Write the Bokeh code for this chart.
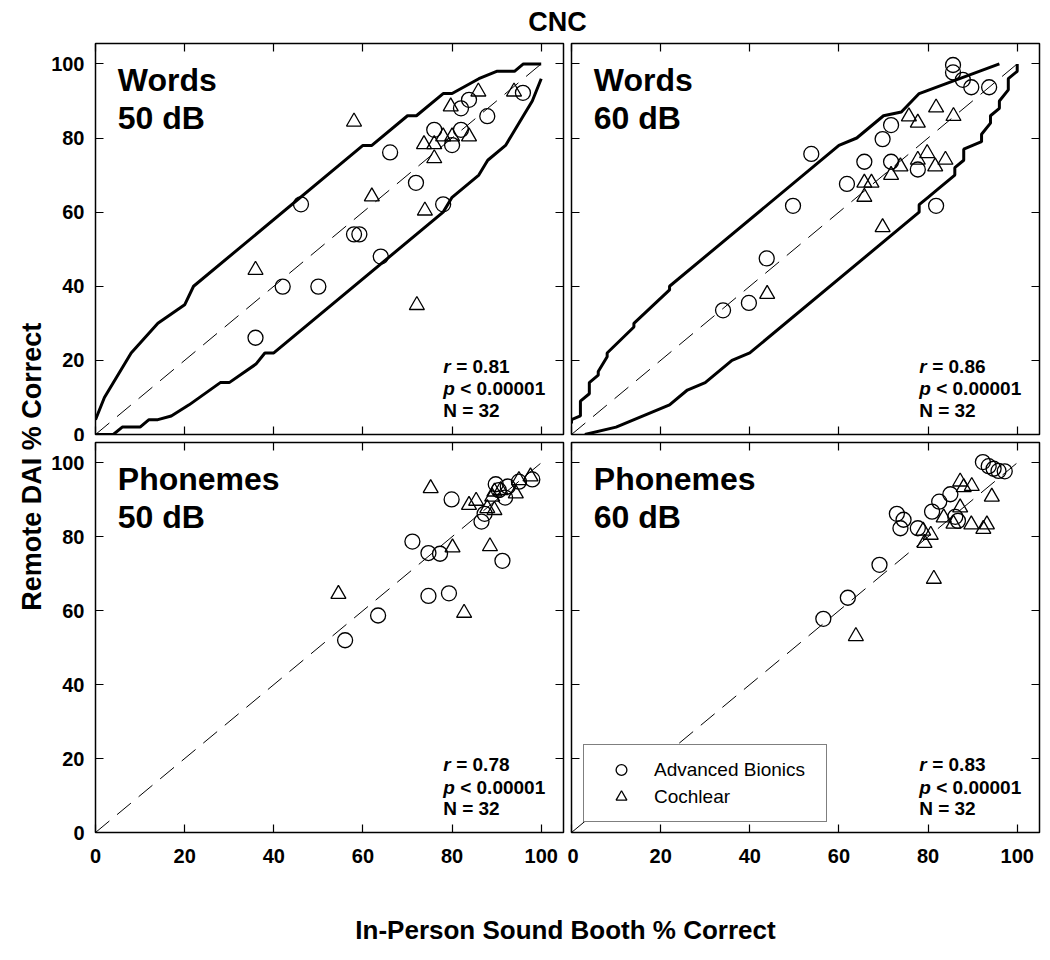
import math
from bokeh.plotting import figure
from bokeh.models import Range1d, LinearAxis, FixedTicker, Label, Legend, LegendItem
from bokeh.layouts import column, row
from bokeh.embed import file_html
from bokeh.resources import INLINE

FONT = "Liberation Sans"
TICKS = [0, 20, 40, 60, 80, 100]

# identity (unity) reference line
unity_x = [0, 100]
unity_y = [0, 100]

# ---- Words 50 dB ----
w50_ab_x = [35.9, 42.0, 50.0, 46.1, 58.0, 59.2, 64.0, 66.1, 71.9, 78.0, 76.0, 80.0, 82.0, 82.0, 83.8, 87.9, 95.9]
w50_ab_y = [26.1, 39.9, 39.9, 62.1, 54.0, 54.0, 48.0, 76.1, 67.9, 62.1, 82.2, 78.1, 82.2, 88.0, 90.3, 85.9, 92.2]
w50_ci_x = [35.9, 58.0, 62.0, 72.1, 73.9, 73.7, 76.0, 76.0, 78.0, 80.0, 79.7, 83.8, 85.9, 93.9]
w50_ci_y = [44.4, 84.4, 64.2, 34.9, 60.4, 78.3, 74.5, 78.3, 80.4, 80.4, 88.5, 80.4, 92.5, 92.5]
w50_upper_x = [0, 2, 8, 14, 20, 22, 60, 62, 70, 72, 78, 80, 86, 90, 94, 96, 100]
w50_upper_y = [4, 10, 22, 30, 35, 40, 78, 78, 86, 86, 92, 92, 96, 98, 98, 100, 100]
w50_lower_x = [0, 4, 6, 10, 12, 14, 17, 21, 28, 30, 36, 38, 40, 78, 80, 86, 88, 92, 96, 98, 100]
w50_lower_y = [0, 0, 2, 2, 4, 4, 5, 8, 14, 14, 19, 22, 22, 60, 64, 70, 74, 78, 86, 90, 96]

# ---- Words 60 dB ----
w60_ab_x = [34.0, 39.8, 43.8, 49.7, 53.8, 61.8, 65.7, 69.8, 71.7, 71.7, 77.7, 81.8, 85.6, 85.6, 87.8, 89.7, 93.7]
w60_ab_y = [33.5, 35.5, 47.5, 61.7, 75.7, 67.6, 73.6, 79.7, 83.5, 73.6, 71.5, 61.7, 99.7, 97.7, 95.7, 93.7, 93.7]
w60_ci_x = [43.9, 65.7, 65.7, 67.3, 69.8, 71.7, 73.8, 75.7, 77.7, 77.7, 79.8, 81.6, 81.8, 83.9, 85.7]
w60_ci_y = [37.9, 64.1, 67.9, 67.9, 55.9, 70.0, 72.3, 85.8, 84.1, 74.1, 75.9, 72.3, 88.2, 74.1, 85.9]
w60_upper_x = [0, 0, 2, 2, 4, 4, 6, 6, 8, 8, 14, 14, 22, 22, 60, 64, 70, 74, 78, 96]
w60_upper_y = [3, 4, 5, 9, 11, 14, 16, 17, 21, 22, 29, 30, 39, 40, 78, 80, 86, 87, 92, 100]
w60_lower_x = [3, 10, 22, 26, 30, 36, 40, 78, 78, 80, 82, 86, 86, 88, 88, 92, 92, 94, 94, 96, 96, 98, 98, 100, 100]
w60_lower_y = [0, 2, 8, 12, 14, 20, 22, 60, 62, 64, 66, 70, 72, 74, 77, 79, 81, 84, 86, 88, 90, 93, 96, 98, 100]

# ---- Phonemes 50 dB ----
p50_ab_x = [56.0, 63.4, 71.1, 74.7, 77.3, 74.7, 79.3, 79.9, 91.3, 86.6, 87.3, 89.8, 90.5, 91.9, 92.5, 95.0, 98.0]
p50_ab_y = [52.0, 58.7, 78.7, 75.6, 75.4, 64.0, 64.7, 90.1, 73.5, 84.1, 86.2, 94.2, 92.6, 90.6, 93.6, 94.9, 95.5]
p50_ci_x = [54.5, 75.2, 80.1, 82.7, 83.8, 85.4, 88.5, 87.9, 89.5, 89.5, 90.9, 94.3, 95.0, 97.6, 89.0]
p50_ci_y = [64.5, 93.1, 77.1, 59.4, 88.6, 89.7, 77.4, 87.7, 87.2, 92.2, 92.6, 91.7, 95.3, 96.3, 90.8]

# ---- Phonemes 60 dB ----
p60_ab_x = [56.5, 62.0, 69.1, 73.0, 73.8, 74.5, 77.7, 80.9, 82.5, 85.0, 86.7, 86.1, 92.3, 93.6, 94.7, 95.8, 97.2]
p60_ab_y = [57.8, 63.5, 72.4, 86.2, 82.3, 84.6, 82.3, 86.8, 89.5, 91.5, 84.3, 85.4, 100.2, 99.1, 98.4, 97.8, 97.7]
p60_ci_x = [63.8, 79.2, 80.6, 78.9, 81.3, 83.5, 85.7, 87.2, 87.2, 88.0, 89.8, 89.7, 92.4, 93.2, 94.3]
p60_ci_y = [53.1, 78.3, 80.5, 81.6, 68.6, 85.2, 83.5, 87.9, 94.9, 93.4, 93.7, 83.3, 82.1, 83.3, 90.8]

panel_titles = [("Words", "50 dB"), ("Words", "60 dB"), ("Phonemes", "50 dB"), ("Phonemes", "60 dB")]
r_values = ["0.81", "0.86", "0.78", "0.83"]
p_text = "< 0.00001"
n_text = "N = 32"
series_names = ["Advanced Bionics", "Cochlear"]


def style_axis(ax, show_labels, standoff):
    ax.ticker = FixedTicker(ticks=TICKS, minor_ticks=[])
    ax.major_tick_in = 8
    ax.major_tick_out = 0
    ax.major_tick_line_color = "black"
    ax.major_tick_line_width = 1.2
    ax.minor_tick_line_color = None
    ax.axis_line_color = None
    if show_labels:
        ax.major_label_text_font = FONT
        ax.major_label_text_font_size = "20px"
        ax.major_label_text_font_style = "bold"
        ax.major_label_text_color = "black"
        ax.major_label_standoff = standoff
    else:
        ax.major_label_text_font_size = "1px"
        ax.major_label_text_color = None
        ax.major_label_standoff = 0


def panel(width, height, borders, left_labels, bottom_labels, titles, rval,
          ab_x, ab_y, ci_x, ci_y, upper=None, lower=None):
    bl, br, bt, bb = borders
    p = figure(width=width, height=height,
               x_range=Range1d(0, 105), y_range=Range1d(0, 105.5),
               x_axis_location=None, y_axis_location=None,
               output_backend="svg", toolbar_location=None,
               min_border_left=bl, min_border_right=br,
               min_border_top=bt, min_border_bottom=bb,
               background_fill_color="white", border_fill_color="white")
    p.xgrid.visible = False
    p.ygrid.visible = False
    p.outline_line_color = "black"
    p.outline_line_width = 1.5
    p.outline_line_alpha = 1.0
    for side, lab, st in [("left", left_labels, 11), ("below", bottom_labels, 16),
                          ("right", False, 0), ("above", False, 0)]:
        ax = LinearAxis()
        style_axis(ax, lab, st)
        p.add_layout(ax, side)

    p.line(unity_x, unity_y, line_color="black", line_width=1, line_dash="18 10")
    if upper is not None:
        p.line(upper[0], upper[1], line_color="black", line_width=3)
    if lower is not None:
        p.line(lower[0], lower[1], line_color="black", line_width=3)

    rc = p.scatter(ab_x, ab_y, marker="circle", size=15, fill_color=None,
                   line_color="black", line_width=1.3)
    rt = p.scatter(ci_x, ci_y, marker="triangle", size=15, fill_color=None,
                   line_color="black", line_width=1.3)

    for txt, yy in [(titles[0], 95.6), (titles[1], 85.3)]:
        p.add_layout(Label(x=5, y=yy, text=txt, text_font=FONT, text_font_size="32px",
                           text_font_style="bold", text_baseline="middle", text_color="black"))

    sx = 78
    ys = [18.3, 12.3, 6.5]
    common = dict(text_font=FONT, text_font_size="19px", text_baseline="middle", text_color="black")
    p.add_layout(Label(x=sx, y=ys[0], text="r", text_font_style="bold italic", **common))
    p.add_layout(Label(x=sx, y=ys[0], x_offset=13, text="= " + rval, text_font_style="bold", **common))
    p.add_layout(Label(x=sx, y=ys[1], text="p", text_font_style="bold italic", **common))
    p.add_layout(Label(x=sx, y=ys[1], x_offset=17, text=p_text, text_font_style="bold", **common))
    p.add_layout(Label(x=sx, y=ys[2], text=n_text, text_font_style="bold", **common))
    return p, rc, rt


def text_fig(width, height, text, x, y, size, angle=0.0):
    f = figure(width=width, height=height, x_range=Range1d(0, width), y_range=Range1d(0, height),
               x_axis_location=None, y_axis_location=None, output_backend="svg",
               toolbar_location=None, min_border=0, outline_line_color=None,
               background_fill_color="white", border_fill_color="white")
    f.xgrid.visible = False
    f.ygrid.visible = False
    f.add_layout(Label(x=x, y=y, text=text, text_font=FONT, text_font_size=size,
                       text_font_style="bold", text_align="center", text_baseline="middle",
                       angle=angle, text_color="black"))
    return f


tl, _, _ = panel(519, 403, (46, 4, 5, 7), True, False, panel_titles[0], r_values[0],
                 w50_ab_x, w50_ab_y, w50_ci_x, w50_ci_y,
                 (w50_upper_x, w50_upper_y), (w50_lower_x, w50_lower_y))
tr, _, _ = panel(475, 403, (4, 3, 5, 7), False, False, panel_titles[1], r_values[1],
                 w60_ab_x, w60_ab_y, w60_ci_x, w60_ci_y,
                 (w60_upper_x, w60_upper_y), (w60_lower_x, w60_lower_y))
bl, _, _ = panel(519, 439, (46, 4, 1, 48), True, True, panel_titles[2], r_values[2],
                 p50_ab_x, p50_ab_y, p50_ci_x, p50_ci_y)
br, rc, rt = panel(475, 439, (4, 3, 1, 48), False, True, panel_titles[3], r_values[3],
                   p60_ab_x, p60_ab_y, p60_ci_x, p60_ci_y)

legend = Legend(items=[LegendItem(label=series_names[0], renderers=[rc]),
                       LegendItem(label=series_names[1], renderers=[rt])],
                location=(12, 10), orientation="vertical",
                border_line_color="black", border_line_width=1.2,
                background_fill_color="white", background_fill_alpha=1.0,
                label_text_font=FONT, label_text_font_size="19px",
                label_text_color="black",
                padding=11, spacing=0, margin=0,
                glyph_width=52, glyph_height=27, label_height=27,
                label_standoff=7, label_width=161)
br.add_layout(legend)

title_fig = text_fig(1042, 38, "CNC", 557, 16.3, "27px")
ylabel_fig = text_fig(48, 842, "Remote  DAI % Correct", 31.5, 417.5, "27px", angle=math.pi / 2)
xlabel_fig = text_fig(1042, 70, "In-Person Sound Booth % Correct", 565, 21, "26px")

grid = column(row(tl, tr), row(bl, br))
layout = column(title_fig, row(ylabel_fig, grid), xlabel_fig)

open("out.html", "w").write(file_html(layout, INLINE))
